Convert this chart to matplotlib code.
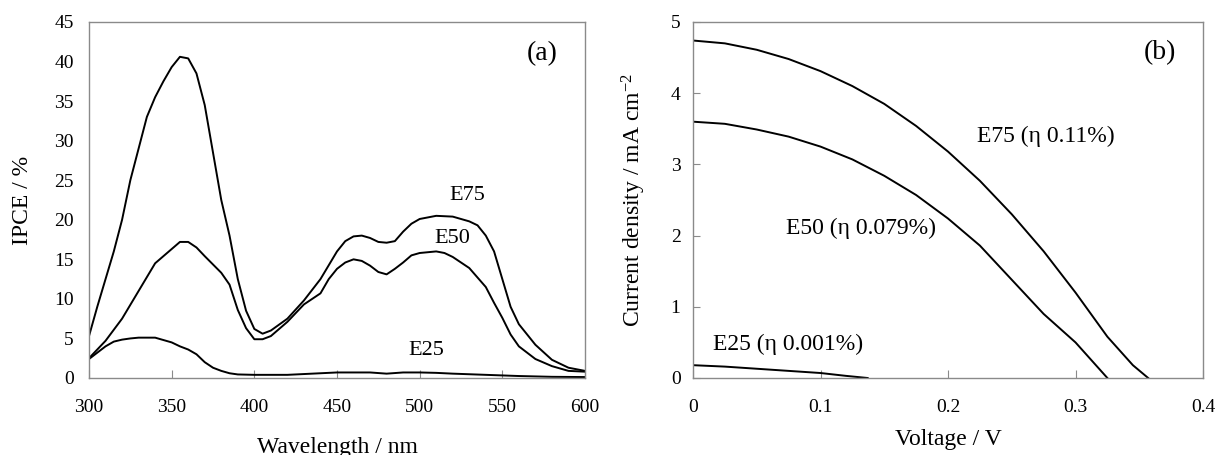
import matplotlib
matplotlib.use("Agg")
import matplotlib.pyplot as plt

plt.rcParams['font.family'] = ['Liberation Serif', 'DejaVu Serif']
plt.rcParams['mathtext.fontset'] = 'custom'
plt.rcParams['mathtext.rm'] = 'Liberation Serif'
plt.rcParams['mathtext.it'] = 'Liberation Serif:italic'

# (a) IPCE spectra
wl_e75 = [300, 305, 310, 315, 320, 325, 330, 335, 340, 345, 350, 355, 360, 365, 370,
          375, 380, 385, 390, 395, 400, 405, 410, 420, 430, 440, 450, 455, 460, 465,
          470, 475, 480, 485, 490, 495, 500, 510, 520, 530, 535, 540, 545, 550, 555,
          560, 570, 580, 590, 600]
ipce_e75 = [5.3, 9.0, 12.5, 16.0, 20.0, 25.0, 29.0, 33.0, 35.5, 37.5, 39.3, 40.6, 40.4, 38.5, 34.5,
            28.5, 22.5, 18.0, 12.5, 8.5, 6.2, 5.6, 6.0, 7.5, 9.8, 12.5, 16.0, 17.3, 17.9, 18.0,
            17.7, 17.2, 17.1, 17.3, 18.5, 19.5, 20.1, 20.5, 20.4, 19.8, 19.3, 18.0, 16.0, 12.5, 9.0,
            6.8, 4.2, 2.3, 1.3, 0.9]

wl_e50 = [300, 310, 320, 330, 340, 350, 355, 360, 365, 370, 380, 385, 390, 395, 400,
          405, 410, 420, 430, 440, 445, 450, 455, 460, 465, 470, 475, 480, 485, 490,
          495, 500, 510, 515, 520, 530, 540, 545, 550, 555, 560, 570, 580, 590, 600]
ipce_e50 = [2.5, 4.7, 7.5, 11.0, 14.5, 16.3, 17.2, 17.2, 16.5, 15.4, 13.3, 11.8, 8.6, 6.3, 4.9,
            4.9, 5.3, 7.1, 9.3, 10.7, 12.5, 13.8, 14.6, 15.0, 14.8, 14.2, 13.4, 13.1, 13.8, 14.6,
            15.5, 15.8, 16.0, 15.8, 15.3, 13.9, 11.5, 9.5, 7.6, 5.5, 4.0, 2.4, 1.5, 0.9, 0.8]

wl_e25 = [300, 310, 315, 320, 325, 330, 340, 345, 350, 355, 360, 365, 370, 375, 380,
          385, 390, 400, 410, 420, 430, 440, 450, 460, 470, 480, 490, 500, 510, 520,
          540, 560, 580, 600]
ipce_e25 = [2.4, 4.0, 4.6, 4.85, 5.0, 5.1, 5.1, 4.8, 4.5, 4.0, 3.6, 3.0, 2.0, 1.3, 0.9,
            0.6, 0.45, 0.4, 0.4, 0.4, 0.5, 0.6, 0.7, 0.7, 0.7, 0.55, 0.7, 0.7, 0.65, 0.55,
            0.4, 0.25, 0.15, 0.12]

# (b) J-V curves
v_e75 = [0, 0.025, 0.05, 0.075, 0.1, 0.125, 0.15, 0.175, 0.2, 0.225, 0.25, 0.275, 0.3, 0.325, 0.345, 0.357]
j_e75 = [4.74, 4.70, 4.61, 4.48, 4.31, 4.10, 3.85, 3.54, 3.18, 2.77, 2.30, 1.78, 1.20, 0.58, 0.18, 0.0]

v_e50 = [0, 0.025, 0.05, 0.075, 0.1, 0.125, 0.15, 0.175, 0.2, 0.225, 0.25, 0.275, 0.3, 0.315, 0.325]
j_e50 = [3.60, 3.57, 3.49, 3.39, 3.25, 3.07, 2.84, 2.57, 2.24, 1.86, 1.38, 0.90, 0.50, 0.20, 0.0]

v_e25 = [0, 0.025, 0.05, 0.075, 0.1, 0.12, 0.137]
j_e25 = [0.18, 0.16, 0.13, 0.10, 0.07, 0.03, 0.0]

fig = plt.figure(figsize=(12.17, 4.55), dpi=100)
ax1 = fig.add_axes([89 / 1217, 1 - 378 / 455, 496 / 1217, 356 / 455])
ax2 = fig.add_axes([693 / 1217, 1 - 378 / 455, 510 / 1217, 356 / 455])

spine_col = '#8a8a8a'
for ax in (ax1, ax2):
    for s in ax.spines.values():
        s.set_color(spine_col)
        s.set_linewidth(1.0)
    ax.tick_params(direction='in', colors=spine_col, labelcolor='black', labelsize=14)

lw = 1.4
ax1.plot(wl_e75, ipce_e75, color='black', lw=lw)
ax1.plot(wl_e50, ipce_e50, color='black', lw=lw)
ax1.plot(wl_e25, ipce_e25, color='black', lw=lw)
ax1.set_xlim(300, 600)
ax1.set_ylim(0, 45)
ax1.set_xticks(range(300, 601, 50))
ax1.set_yticks(range(0, 46, 5))
ax1.tick_params(axis='x', length=6, pad=15)
ax1.tick_params(axis='y', length=0, pad=11)
ax1.set_xlabel('Wavelength / nm', fontsize=17)
ax1.set_ylabel('IPCE / %', fontsize=17)
ax1.xaxis.set_label_coords(0.5, -0.166)
ax1.yaxis.set_label_coords(-0.113, 0.5)
ax1.text(574, 41, '(a)', fontsize=20, ha='center', va='center')
ax1.text(529, 23.1, 'E75', fontsize=16, ha='center', va='center')
ax1.text(520, 17.6, 'E50', fontsize=16, ha='center', va='center')
ax1.text(504, 3.5, 'E25', fontsize=16, ha='center', va='center')

ax2.plot(v_e75, j_e75, color='black', lw=lw)
ax2.plot(v_e50, j_e50, color='black', lw=lw)
ax2.plot(v_e25, j_e25, color='black', lw=lw)
ax2.set_xlim(0, 0.4)
ax2.set_ylim(0, 5)
ax2.set_xticks([0, 0.1, 0.2, 0.3, 0.4])
ax2.set_xticklabels(['0', '0.1', '0.2', '0.3', '0.4'])
ax2.set_yticks(range(0, 6))
ax2.tick_params(axis='x', length=6, pad=15)
ax2.tick_params(axis='y', length=5, pad=9)
ax2.set_xlabel('Voltage / V', fontsize=17)
ax2.set_ylabel('Current density / mA cm$^{-2}$', fontsize=17)
ax2.xaxis.set_label_coords(0.5, -0.143)
ax2.yaxis.set_label_coords(-0.088, 0.5)
ax2.text(0.3666, 4.57, '(b)', fontsize=20, ha='center', va='center')
ax2.text(0.277, 3.39, 'E75 (η 0.11%)', fontsize=17, ha='center', va='center')
ax2.text(0.132, 2.10, 'E50 (η 0.079%)', fontsize=17, ha='center', va='center')
ax2.text(0.0745, 0.47, 'E25 (η 0.001%)', fontsize=17, ha='center', va='center')

fig.savefig('out.png', dpi=100)
